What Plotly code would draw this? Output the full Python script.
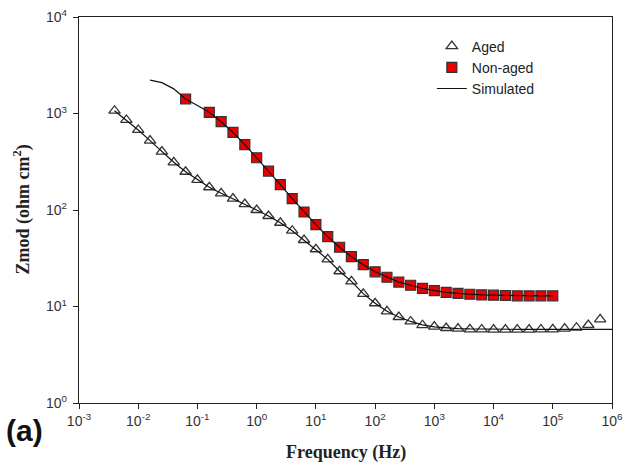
import plotly.graph_objects as go

# ---------------- data ----------------
aged_freq = [10 ** e for e in [-2.4, -2.2, -2.0, -1.8, -1.6, -1.4, -1.2, -1.0, -0.8, -0.6,
                               -0.4, -0.2, 0.0, 0.2, 0.4, 0.6, 0.8, 1.0, 1.2, 1.4,
                               1.6, 1.8, 2.0, 2.2, 2.4, 2.6, 2.8, 3.0, 3.2, 3.4,
                               3.6, 3.8, 4.0, 4.2, 4.4, 4.6, 4.8, 5.0, 5.2, 5.4,
                               5.6, 5.8]]
aged_z = [1069, 857, 675, 523, 402, 312, 249, 205, 172, 149,
          131, 115, 100, 86.7, 73.8, 61.0, 48.9, 39.2, 30.8, 23.2,
          18.2, 13.5, 10.8, 8.91, 7.78, 7.0, 6.40, 6.18, 5.99, 5.89,
          5.80, 5.78, 5.76, 5.76, 5.76, 5.77, 5.78, 5.80, 5.89, 6.03,
          6.43, 7.37]

nonaged_freq = [10 ** e for e in [-1.2, -0.8, -0.6, -0.4, -0.2, 0.0, 0.2, 0.4, 0.6, 0.8,
                                  1.0, 1.2, 1.4, 1.6, 1.8, 2.0, 2.2, 2.4, 2.6, 2.8,
                                  3.0, 3.2, 3.4, 3.6, 3.8, 4.0, 4.2, 4.4, 4.6, 4.8, 5.0]]
nonaged_z = [1413, 1028, 822, 638, 476, 348, 253, 183, 131, 95.3,
             70.4, 52.9, 41.1, 32.8, 27.1, 22.9, 20.1, 17.9, 16.6, 15.4,
             14.6, 14.0, 13.7, 13.4, 13.2, 13.1, 13.0, 12.9, 12.9, 12.9, 12.9]

sim_aged_freq = [10 ** e for e in [-2.4, -2.2, -2.0, -1.8, -1.6, -1.4, -1.2, -1.0, -0.8, -0.6,
                                   -0.4, -0.2, 0.0, 0.2, 0.4, 0.6, 0.8, 1.0, 1.2, 1.4,
                                   1.6, 1.8, 2.0, 2.2, 2.4, 2.6, 2.8, 3.0, 3.2, 3.4,
                                   3.6, 3.8, 4.0, 4.5, 5.0, 5.5, 6.0]]
sim_aged_z = [1069, 857, 675, 523, 402, 312, 249, 205, 172, 149,
              131, 115, 100, 86.7, 73.8, 61.0, 48.9, 39.2, 30.8, 23.2,
              18.2, 13.6, 10.8, 8.91, 7.78, 7.0, 6.45, 6.15, 6.0, 5.9,
              5.85, 5.82, 5.8, 5.8, 5.8, 5.8, 5.8]

sim_nonaged_freq = [10 ** e for e in [-1.8, -1.6, -1.4, -1.2, -1.0, -0.8, -0.6, -0.4, -0.2, 0.0,
                                      0.2, 0.4, 0.6, 0.8, 1.0, 1.2, 1.4, 1.6, 1.8, 2.0,
                                      2.2, 2.4, 2.6, 2.8, 3.0, 3.2, 3.4, 3.6, 3.8, 4.0,
                                      4.2, 4.4, 4.6, 4.8, 5.0]]
sim_nonaged_z = [2220, 2090, 1800, 1413, 1210, 1028, 822, 638, 476, 348,
                 253, 183, 131, 95.3, 70.4, 52.9, 41.1, 32.8, 27.1, 22.9,
                 20.1, 17.9, 16.6, 15.4, 14.6, 14.0, 13.7, 13.4, 13.2, 13.1,
                 13.0, 12.9, 12.9, 12.9, 12.9]

x_tick_exp = [-3, -2, -1, 0, 1, 2, 3, 4, 5, 6]
y_tick_exp = [0, 1, 2, 3, 4]

# ---------------- figure ----------------
SANS = "Liberation Sans, Arial, sans-serif"
SERIF = "Liberation Serif, Times New Roman, serif"

fig = go.Figure()

fig.add_trace(go.Scatter(
    x=aged_freq, y=aged_z, mode="markers", name="Aged",
    marker=dict(symbol="triangle-up", size=10, color="white",
                line=dict(color="#333333", width=1.3)),
))
fig.add_trace(go.Scatter(
    x=nonaged_freq, y=nonaged_z, mode="markers", name="Non-aged",
    marker=dict(symbol="square", size=10, color="#ee0000",
                line=dict(color="#333333", width=1.2)),
))
fig.add_trace(go.Scatter(
    x=sim_aged_freq, y=sim_aged_z, mode="lines", name="Simulated",
    line=dict(color="#111111", width=1.2),
))
fig.add_trace(go.Scatter(
    x=sim_nonaged_freq, y=sim_nonaged_z, mode="lines", name="Simulated",
    line=dict(color="#111111", width=1.2), showlegend=False,
))

axis_common = dict(
    type="log", showgrid=False, zeroline=False, automargin=False,
    showline=True, linecolor="#222222", linewidth=1.3, mirror=True,
    ticks="outside", ticklen=5, tickwidth=1.2, tickcolor="#222222",
    tickfont=dict(family=SANS, size=14, color="#333333"),
    tickmode="array",
)

fig.update_xaxes(
    **axis_common,
    range=[-3, 6],
    tickvals=[10 ** e for e in x_tick_exp],
    ticktext=[f"10<sup>{e}</sup>" for e in x_tick_exp],
)
fig.update_yaxes(
    **axis_common,
    range=[0, 4],
    tickvals=[10 ** e for e in y_tick_exp],
    ticktext=[f"10<sup>{e}</sup>" for e in y_tick_exp],
    ticklabelstandoff=3,
)

fig.update_layout(
    width=626, height=468,
    margin=dict(l=79, r=14, t=17, b=65, autoexpand=False),
    paper_bgcolor="white", plot_bgcolor="white",
    showlegend=True,
    legend=dict(
        x=0.662, y=0.965, xanchor="left", yanchor="top",
        bgcolor="rgba(0,0,0,0)",
        font=dict(family=SANS, size=14, color="#222222"),
        tracegroupgap=0, itemwidth=30,
    ),
    annotations=[
        dict(text="<b>Frequency (Hz)</b>", xref="paper", yref="paper",
             x=0.5, y=-0.127, xanchor="center", yanchor="middle", showarrow=False,
             font=dict(family=SERIF, size=18, color="#222222")),
        dict(text="<b>Zmod (ohm cm<sup>2</sup>)</b>", xref="paper", yref="paper",
             x=-0.106, y=0.5, xanchor="center", yanchor="middle", showarrow=False,
             textangle=-90,
             font=dict(family=SERIF, size=18, color="#222222")),
        dict(text="<b>(a)</b>", xref="paper", yref="paper",
             x=-0.103, y=-0.07, xanchor="center", yanchor="middle", showarrow=False,
             font=dict(family=SANS, size=30, color="#111111")),
    ],
)

fig.write_html("out.html")
